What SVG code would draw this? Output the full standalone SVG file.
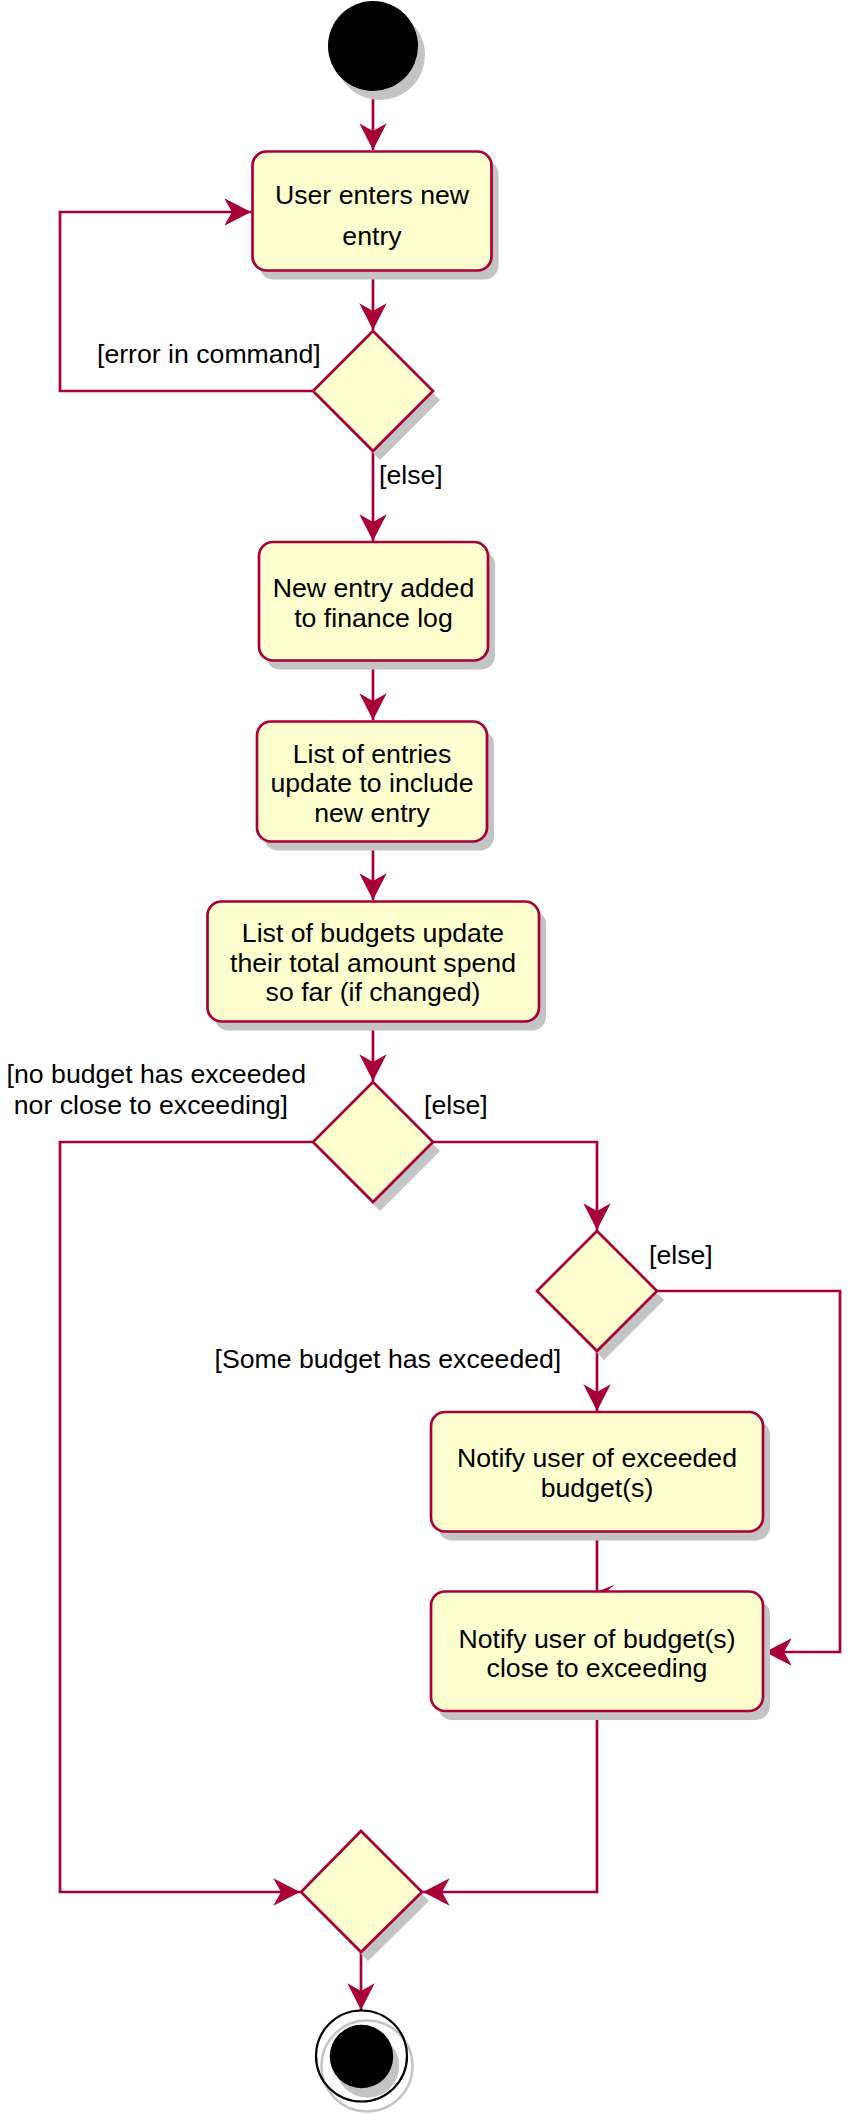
<svg xmlns="http://www.w3.org/2000/svg" width="867" height="2115" viewBox="0 0 867 2115">
<defs>
<style>
.node{fill:#FEFECE;stroke:#A80036;stroke-width:2.7}
.sh{fill:#C4C4C4;stroke:none}
.edge{fill:none;stroke:#A80036;stroke-width:2.7}
.t{font-family:"Liberation Sans",Arial,sans-serif;font-size:26.67px;fill:#000}
.c{text-anchor:middle}
</style>
<marker id="ah" viewBox="-28 -15 30 30" refX="0" refY="0" markerWidth="30" markerHeight="30" markerUnits="userSpaceOnUse" orient="auto">
<path d="M0,0 L-26.7,-13.7 L-19,0 L-26.7,13.7 Z" fill="#A80036"/>
</marker>
</defs>
<rect width="867" height="2115" fill="#FFFFFF"/>

<g id="connectors">
<path class="edge" d="M373,92 L373,150" marker-end="url(#ah)"/>
<path class="edge" d="M373,271 L373,330" marker-end="url(#ah)"/>
<path class="edge" d="M312,391 L60,391 L60,212 L251,212" marker-end="url(#ah)"/>
<path class="edge" d="M373,451 L373,541" marker-end="url(#ah)"/>
<path class="edge" d="M373,661 L373,720" marker-end="url(#ah)"/>
<path class="edge" d="M373,842 L373,900" marker-end="url(#ah)"/>
<path class="edge" d="M373,1022 L373,1081" marker-end="url(#ah)"/>
<path class="edge" d="M313,1142 L60,1142 L60,1892 L300,1892" marker-end="url(#ah)"/>
<path class="edge" d="M433,1142 L597,1142 L597,1230" marker-end="url(#ah)"/>
<path class="edge" d="M657,1291 L840,1291 L840,1652 L765,1652" marker-end="url(#ah)"/>
<path class="edge" d="M597,1351 L597,1411" marker-end="url(#ah)"/>
<path class="edge" d="M597,1532 L597,1591"/>
<path d="M599,1591 L615,1584.5 L607,1591 Z" fill="#A80036"/>
<path class="edge" d="M597,1711 L597,1892 L423,1892" marker-end="url(#ah)"/>
<path class="edge" d="M361,1952 L361,2010" marker-end="url(#ah)"/>
</g>

<g id="start">
<circle class="sh" cx="380" cy="55" r="45"/>
<circle cx="373" cy="46" r="45" fill="#000"/>
</g>

<g id="n1">
<rect class="sh" x="259.5" y="160.5" width="239" height="119" rx="14"/>
<rect class="node" x="252.5" y="151.5" width="239" height="119" rx="14"/>
<text class="t c" x="372" y="204">User enters new</text>
<text class="t c" x="372" y="245">entry</text>
</g>

<g id="d1">
<polygon class="sh" points="380,340 440,400 380,460 320,400"/>
<polygon class="node" points="373,331 433,391 373,451 313,391"/>
</g>

<g id="lbl1">
<text class="t" x="97" y="363">[error in command]</text>
<text class="t" x="379" y="483.5">[else]</text>
</g>

<g id="n2">
<rect class="sh" x="266" y="551" width="229" height="118.5" rx="14"/>
<rect class="node" x="259" y="542" width="229" height="118.5" rx="14"/>
<text class="t c" x="373.5" y="597">New entry added</text>
<text class="t c" x="373.5" y="627">to finance log</text>
</g>

<g id="n3">
<rect class="sh" x="264" y="730.5" width="230" height="120" rx="14"/>
<rect class="node" x="257" y="721.5" width="230" height="120" rx="14"/>
<text class="t c" x="372" y="762.5">List of entries</text>
<text class="t c" x="372" y="792.4">update to include</text>
<text class="t c" x="372" y="821.5">new entry</text>
</g>

<g id="n4">
<rect class="sh" x="214.5" y="910.5" width="331.5" height="120" rx="14"/>
<rect class="node" x="207.5" y="901.5" width="331.5" height="120" rx="14"/>
<text class="t c" x="373" y="942">List of budgets update</text>
<text class="t c" x="373" y="971.5">their total amount spend</text>
<text class="t c" x="373" y="1001.3">so far (if changed)</text>
</g>

<g id="d2">
<polygon class="sh" points="380,1091 440,1151 380,1211 320,1151"/>
<polygon class="node" points="373,1082 433,1142 373,1202 313,1142"/>
</g>

<g id="lbl2">
<text class="t" x="6.6" y="1083">[no budget has exceeded</text>
<text class="t" x="13.8" y="1113.5">nor close to exceeding]</text>
<text class="t" x="424" y="1113.5">[else]</text>
</g>

<g id="d3">
<polygon class="sh" points="604,1240 664,1300 604,1360 544,1300"/>
<polygon class="node" points="597,1231 657,1291 597,1351 537,1291"/>
</g>

<g id="lbl3">
<text class="t" x="649" y="1263.5">[else]</text>
<text class="t" x="214.5" y="1368.3">[Some budget has exceeded]</text>
</g>

<g id="n5">
<rect class="sh" x="438" y="1421" width="332" height="119.5" rx="14"/>
<rect class="node" x="431" y="1412" width="332" height="119.5" rx="14"/>
<text class="t c" x="597" y="1467">Notify user of exceeded</text>
<text class="t c" x="597" y="1497">budget(s)</text>
</g>

<g id="n6">
<rect class="sh" x="438" y="1600.5" width="332" height="119.5" rx="14"/>
<rect class="node" x="431" y="1591.5" width="332" height="119.5" rx="14"/>
<text class="t c" x="597" y="1647.6">Notify user of budget(s)</text>
<text class="t c" x="597" y="1677">close to exceeding</text>
</g>

<g id="merge">
<polygon class="sh" points="368,1840 429,1901 368,1961 308,1901"/>
<polygon class="node" points="361,1831 422,1892 361,1952 301,1892"/>
</g>

<g id="end">
<circle cx="367" cy="2066" r="45.5" fill="none" stroke="#C4C4C4" stroke-width="2.5"/>
<circle cx="361.5" cy="2056" r="45.5" fill="none" stroke="#000" stroke-width="2.2"/>
<circle class="sh" cx="367.5" cy="2066" r="31.7"/>
<circle cx="361.5" cy="2056.5" r="31.7" fill="#000"/>
</g>
</svg>
